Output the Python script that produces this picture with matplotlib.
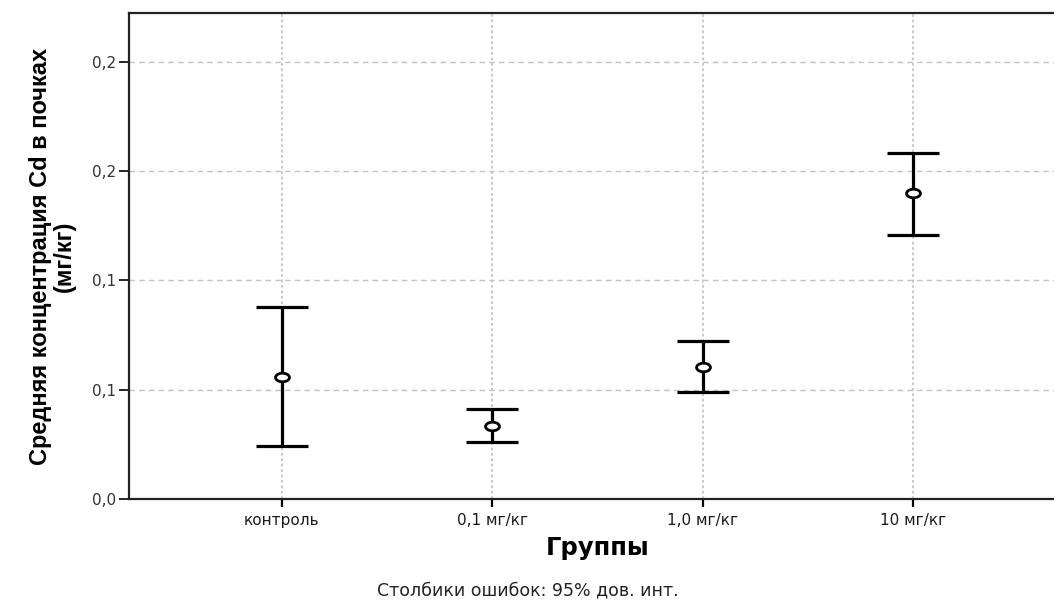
import numpy as np
import matplotlib.pyplot as plt
from matplotlib.path import Path
from matplotlib.transforms import Affine2D

# data
groups = ['контроль', '0,1 мг/кг', '1,0 мг/кг', '10 мг/кг']
means = [0.0559, 0.0335, 0.0602, 0.1398]
ci_low = [0.0244, 0.0259, 0.0491, 0.1208]
ci_high = [0.0877, 0.0412, 0.0724, 0.1584]

ytick_values = [0.0, 0.05, 0.10, 0.15, 0.20]
ytick_labels = ['0,0', '0,1', '0,1', '0,2', '0,2']

means = np.array(means)
yerr = [means - np.array(ci_low), np.array(ci_high) - means]
x = np.arange(len(groups))

# flattened circle marker, like in the SPSS output
oval = Path.unit_circle().transformed(Affine2D().scale(1.0, 0.62))

fig = plt.figure(figsize=(10.54, 6.01), dpi=100)
ax = fig.add_axes([0.1224, 0.1697, 0.889, 0.8087])

ax.errorbar(x, means, yerr=yerr, fmt='none', ecolor='black', elinewidth=2.3,
            capsize=18.5, capthick=2.3, zorder=3)
ax.plot(x, means, linestyle='none', marker=oval, markersize=10,
        markerfacecolor='white', markeredgecolor='black', markeredgewidth=2.0, zorder=4)

ax.set_xlim(-0.725, 3.725)
ax.set_ylim(0, 0.2223)
ax.set_xticks(x)
ax.set_xticklabels(groups, fontsize=11, family=['DejaVu Sans'], color='#1a1a1a')
ax.set_yticks(ytick_values)
ax.set_yticklabels(ytick_labels, fontsize=11, family=['DejaVu Sans'], color='#333333')
ax.tick_params(axis='y', length=7, width=1.2, pad=2)
ax.tick_params(axis='x', length=6, width=1.6, pad=4)

# grid: dashed horizontal, dotted vertical
ax.grid(axis='y', linestyle=(0, (4, 3)), color='#c4c4c4', linewidth=1.0, zorder=0)
ax.grid(axis='x', linestyle=(0, (1.5, 1.5)), color='#c4c4c4', linewidth=1.3, zorder=0)
ax.set_axisbelow(True)

for side in ['left', 'bottom', 'top', 'right']:
    ax.spines[side].set_linewidth(1.6)
    ax.spines[side].set_color('#222222')

ax.set_ylabel('Средняя концентрация Cd в почках\n(мг/кг)', fontsize=17, fontweight='bold',
              family=['Liberation Sans', 'DejaVu Sans'], linespacing=1.05)
ax.yaxis.set_label_coords(-0.057, 0.5)

fig.text(0.567, 1 - 548 / 601, 'Группы', ha='center', va='center', fontsize=17.5,
         fontweight='bold', family=['DejaVu Sans'])
fig.text(0.501, 1 - 590 / 601, 'Столбики ошибок: 95% дов. инт.', ha='center', va='center',
         fontsize=12.5, family=['DejaVu Sans'], color='#222222')

fig.savefig('out.png', dpi=100)
